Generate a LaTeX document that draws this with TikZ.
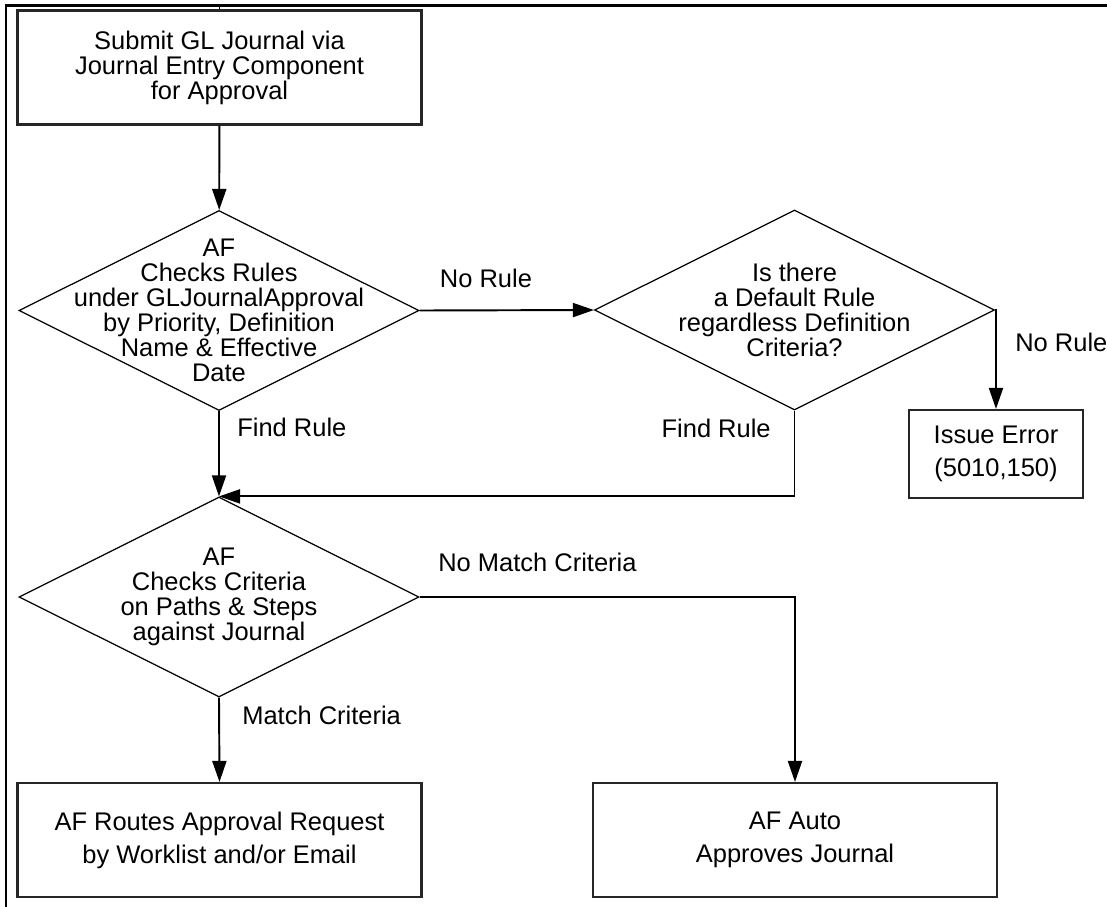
\documentclass[tikz,border=0pt]{standalone}
\usepackage{fontspec}
\setmainfont{Liberation Sans}
\usetikzlibrary{positioning,arrows.meta,shapes.geometric}
\tikzset{
  pbox/.style={rectangle, draw=black!85, line width=1.2pt, minimum width=8.08cm, minimum height=2.28cm, align=center, font=\fontsize{14.5}{14.2}\selectfont},
  wide/.style={font=\fontsize{14.5}{18.8}\selectfont},
  ebox/.style={pbox, wide, minimum width=3.48cm, minimum height=1.76cm},
  dec/.style={diamond, draw=black, line width=0.7pt, aspect=2, minimum width=8cm, minimum height=4cm, inner sep=0pt},
  txt/.style={align=center, font=\fontsize{14.5}{14.2}\selectfont, inner sep=0pt},
  lbl/.style={font=\fontsize{14.5}{14.2}\selectfont, inner sep=0pt},
  flow/.style={draw=black, line width=1.1pt, ->, >={Triangle[length=12pt,width=8pt]}},
  frame/.style={line width=1.7pt}
}
\begin{document}
\begin{tikzpicture}[x=0.02cm, y=-0.02cm]
  \useasboundingbox (0,0) rectangle (1107,907);
  % page frame
  \draw[frame] (5,5.5) -- (1107,5.5);
  \draw[frame] (6,5) -- (6,907);
  \coordinate (in) at (219.5,5.5);

  \node[pbox] (submit) at (219.5,67.5) {Submit GL Journal via\\Journal Entry Component\\for Approval};
  \node[dec] (d1) at (219,310.5) {};
  \node[txt] (d1t) at (d1) {AF\\Checks Rules\\under GLJournalApproval\\by Priority, Definition\\Name \& Effective\\Date};
  \node[dec] (d2) at (794.5,310) {};
  \node[txt] (d2t) at (d2) {Is there\\a Default Rule\\regardless Definition\\Criteria?};
  \node[ebox] (err) at (996,454) {Issue Error\\(5010,150)};
  \node[dec] (d3) at (219,597) {};
  \node[txt] (d3t) at (d3) {AF\\Checks Criteria\\on Paths \& Steps\\against Journal};
  \node[pbox, wide] (route) at (219.5,840) {AF Routes Approval Request\\by Worklist and/or Email};
  \node[pbox, wide] (auto) at (795,840) {AF Auto\\Approves Journal};

  \draw[line width=0.6pt] (in) -- (submit);
  \draw[flow] (submit) -- (d1);
  \draw[flow] (d1.east) -- (d2.west);
  \draw[flow] (d2.east) -| (err.north);
  \draw[flow] (d1.south) -- (d3.north);
  \draw[flow] (d2.south) |- (d3.north);
  \draw[flow] (d3.east) -| (auto.north);
  \draw[flow] (d3.south) -- (route.north);

  \node[lbl] (nr1) at (486,278) {No Rule};
  \node[lbl, anchor=west] (nr2) at (1015,342) {No Rule};
  \node[lbl, anchor=west] (fr1) at (237,427) {Find Rule};
  \node[lbl, anchor=east] (fr2) at (771,428) {Find Rule};
  \node[lbl, anchor=west] (nmc) at (438,562) {No Match Criteria};
  \node[lbl, anchor=west] (mc) at (242,715) {Match Criteria};
\end{tikzpicture}
\end{document}
